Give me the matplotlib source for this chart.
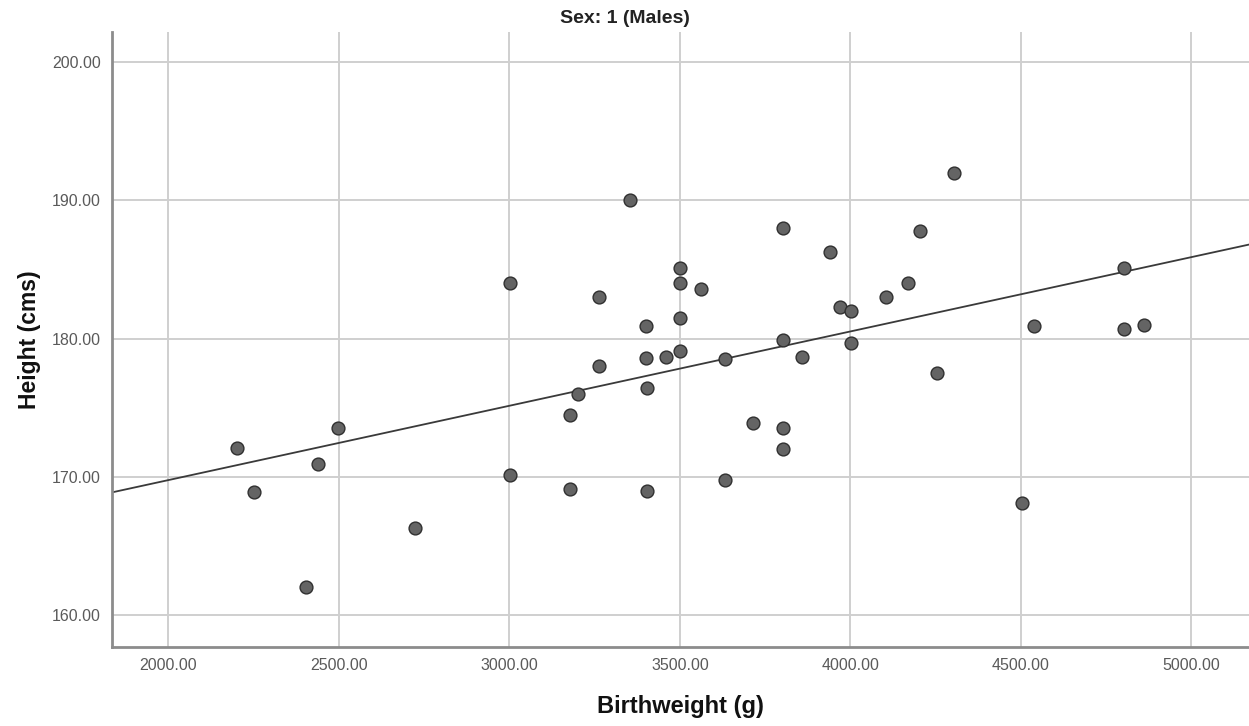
import matplotlib
matplotlib.use("Agg")
import matplotlib.pyplot as plt
import numpy as np
from matplotlib.ticker import FormatStrFormatter

plt.rcParams['font.family'] = ['Liberation Sans', 'DejaVu Sans']

# Data
birthweight = [2202, 2251, 2403, 2440, 2497, 2723, 3002,
               3353, 3802, 3941, 3003, 3263, 3501, 3501, 3562, 3501, 3970, 4003,
               3402, 3802, 4003, 3402, 3460, 3501, 3632, 3857, 3263, 3202, 3404,
               3177, 3715, 3802, 3802, 3177, 3404, 3632,
               4303, 4204, 4170, 4104, 4803, 4540, 4803, 4861, 4255, 4503]
height = [172.1, 168.9, 162.0, 170.9, 173.5, 166.3, 170.1,
          190.0, 188.0, 186.3, 184.0, 183.0, 185.1, 184.0, 183.6, 181.5, 182.3, 182.0,
          180.9, 179.9, 179.7, 178.6, 178.7, 179.1, 178.5, 178.7, 178.0, 176.0, 176.4,
          174.5, 173.9, 173.5, 172.0, 169.1, 169.0, 169.8,
          192.0, 187.8, 184.0, 183.0, 185.1, 180.9, 180.7, 181.0, 177.5, 168.1]

fit_intercept = 159.0
fit_slope = 0.00538

x_ticks = [2000, 2500, 3000, 3500, 4000, 4500, 5000]
y_ticks = [160, 170, 180, 190, 200]

fig = plt.figure(figsize=(12.49, 7.26), dpi=100)
ax = fig.add_axes([0.0897, 0.1092, 0.9103, 0.8468])

ax.set_xlim(1835, 5169)
ax.set_ylim(157.7, 202.2)

ax.grid(True, color='#cfcfcf', linewidth=1.4, zorder=0)
ax.set_axisbelow(True)

xs = np.array(ax.get_xlim())
ax.plot(xs, fit_intercept + fit_slope * xs, color='#3a3a3a', linewidth=1.3, zorder=2)

ax.scatter(birthweight, height, s=85, facecolor='#646464', edgecolor='#303030',
           linewidth=1.0, zorder=3)

ax.set_xticks(x_ticks)
ax.set_yticks(y_ticks)
ax.xaxis.set_major_formatter(FormatStrFormatter('%.2f'))
ax.yaxis.set_major_formatter(FormatStrFormatter('%.2f'))
ax.tick_params(axis='both', length=0, labelsize=11.5, labelcolor='#5a5a5a', pad=8)

for side in ['top', 'right']:
    ax.spines[side].set_visible(False)
for side in ['left', 'bottom']:
    ax.spines[side].set_color('#8c8c8c')
    ax.spines[side].set_linewidth(2)

ax.set_xlabel('Birthweight (g)', fontsize=17, fontweight='bold', color='#111111', labelpad=16)
ax.set_ylabel('Height (cms)', fontsize=16.5, fontweight='bold', color='#111111', labelpad=8)
fig.text(0.5, 0.975, 'Sex: 1 (Males)', ha='center', va='center', fontsize=14,
         fontweight='bold', color='#222222')

fig.savefig('out.png', dpi=100, facecolor='white')
